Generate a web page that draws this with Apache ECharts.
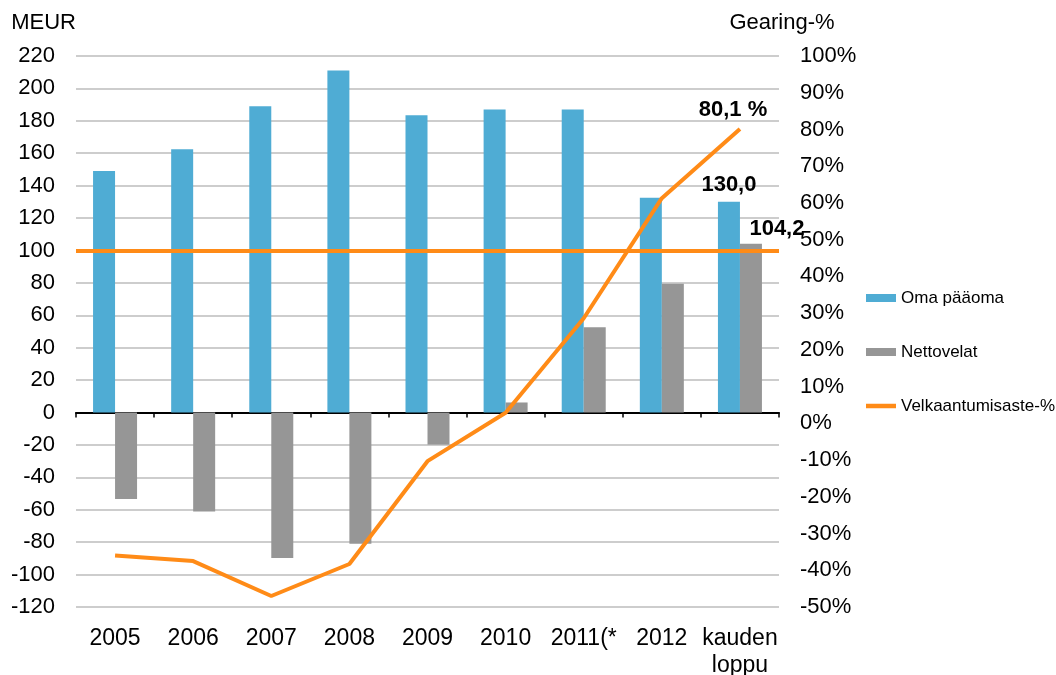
<!DOCTYPE html>
<html>
<head>
<meta charset="utf-8">
<script src="https://cdn.jsdelivr.net/npm/echarts@6/dist/echarts.min.js"></script>
<style>
html, body { margin: 0; padding: 0; background: #fff; }
#chart { width: 1056px; height: 675px; }
</style>
</head>
<body>
<div id="chart"></div>
<script>
// data
const categories = ['2005', '2006', '2007', '2008', '2009', '2010', '2011(*', '2012', 'kauden\nloppu'];
const omaPaaoma = [149, 162.5, 189, 211, 183.5, 187, 187, 132.5, 130.0];
const nettovelat = [-53.3, -61, -89.7, -80.9, -19.8, 6.2, 52.6, 79.4, 104.2];
const gearing = [-36.0, -37.5, -47.0, -38.3, -10.3, 2.9, 28.6, 61.3, 80.1];
const referenceLine = 100; // orange horizontal line, MEUR axis

const BLUE = '#4FACD4';
const GRAY = '#969696';
const ORANGE = '#FF8B17';
const FONT = '"Liberation Sans", Arial, sans-serif';

const fmt = v => v.toFixed(1).replace('.', ',');
const last = categories.length - 1;

const chart = echarts.init(document.getElementById('chart'), null, { renderer: 'canvas' });

const lastLabel = (offset, suffix) => ({
    show: true,
    position: 'top',
    distance: 6,
    offset: offset,
    formatter: p => fmt(p.value) + suffix,
    fontFamily: FONT,
    fontSize: 22,
    fontWeight: 'bold',
    color: '#000'
});

const option = {
    backgroundColor: '#FFFFFF',
    animation: false,
    textStyle: { fontFamily: FONT, color: '#000' },
    grid: { left: 76, right: 277, top: 56, bottom: 68, outerBoundsMode: 'none', containLabel: false },
    legend: {
        orient: 'vertical',
        left: 861,
        top: 283,
        itemWidth: 30,
        itemHeight: 8,
        itemGap: 34,
        textStyle: { fontFamily: FONT, fontSize: 17, color: '#000', lineHeight: 20 },
        data: [
            { name: 'Oma pääoma', icon: 'rect' },
            { name: 'Nettovelat', icon: 'rect' },
            { name: 'Velkaantumisaste-%', icon: 'path://M0,0H30V4.5H0Z' }
        ]
    },
    xAxis: [
        {
            type: 'category',
            data: categories,
            position: 'bottom',
            axisLine: { onZero: true, lineStyle: { color: '#000', width: 2 } },
            axisTick: { show: true, length: 5, lineStyle: { color: '#000', width: 1.5 } },
            axisLabel: { show: false }
        },
        {
            type: 'category',
            data: categories,
            position: 'bottom',
            axisLine: { show: false, onZero: false },
            axisTick: { show: false },
            axisLabel: {
                margin: 18,
                fontFamily: FONT,
                fontSize: 23,
                lineHeight: 27,
                color: '#000',
                interval: 0
            }
        }
    ],
    yAxis: [
        {
            type: 'value',
            min: -120,
            max: 220,
            interval: 20,
            name: 'MEUR',
            nameGap: 22,
            nameTextStyle: { fontFamily: FONT, fontSize: 22, color: '#000', align: 'right' },
            axisLine: { show: false },
            axisTick: { show: false },
            axisLabel: { margin: 21, fontFamily: FONT, fontSize: 22, color: '#000' },
            splitLine: { lineStyle: { color: '#BDBDBD', width: 1.5 } }
        },
        {
            type: 'value',
            min: -50,
            max: 100,
            interval: 10,
            position: 'right',
            name: 'Gearing-%',
            nameGap: 22,
            nameTextStyle: { fontFamily: FONT, fontSize: 22, color: '#000', padding: [0, 0, 0, 6] },
            axisLine: { show: false },
            axisTick: { show: false },
            axisLabel: { margin: 21, fontFamily: FONT, fontSize: 22, color: '#000', formatter: '{value}%' },
            splitLine: { show: false }
        }
    ],
    series: [
        {
            name: 'Oma pääoma',
            type: 'bar',
            xAxisIndex: 0,
            yAxisIndex: 0,
            barWidth: 22,
            barGap: '0%',
            itemStyle: { color: BLUE },
            data: omaPaaoma.map((v, i) => i === last ? { value: v, label: lastLabel([0, 0], '') } : v),
            markLine: {
                silent: true,
                symbol: 'none',
                label: { show: false },
                lineStyle: { color: ORANGE, width: 4, type: 'solid' },
                data: [{ yAxis: referenceLine }],
                z: 5
            }
        },
        {
            name: 'Nettovelat',
            type: 'bar',
            xAxisIndex: 0,
            yAxisIndex: 0,
            barWidth: 22,
            barGap: '0%',
            itemStyle: { color: GRAY },
            data: nettovelat.map((v, i) => i === last ? { value: v, label: lastLabel([26, 2], '') } : v)
        },
        {
            name: 'Velkaantumisaste-%',
            type: 'line',
            xAxisIndex: 0,
            yAxisIndex: 1,
            symbol: 'circle',
            symbolSize: 0.1,
            showSymbol: true,
            z: 6,
            lineStyle: { color: ORANGE, width: 4 },
            itemStyle: { color: ORANGE },
            data: gearing.map((v, i) => i === last ? { value: v, label: lastLabel([-7, -2], ' %') } : v)
        }
    ]
};

chart.setOption(option);
</script>
</body>
</html>
